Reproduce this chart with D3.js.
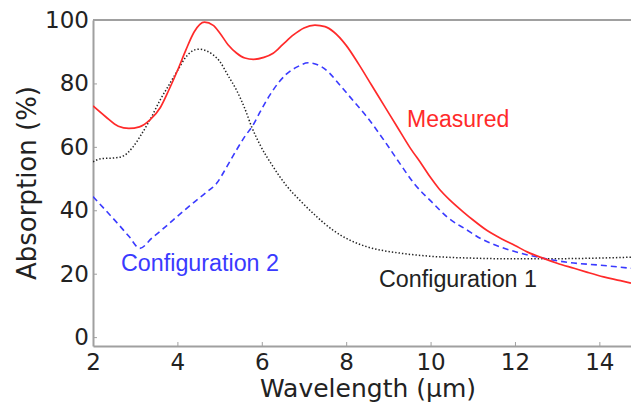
<!DOCTYPE html>
<html>
<head>
<meta charset="utf-8">
<script src="https://cdn.jsdelivr.net/npm/d3@7"></script>
<style>
  html, body { margin: 0; padding: 0; background: #fff; }
  svg { display: block; }
</style>
</head>
<body>
<svg id="chart" width="631" height="406"></svg>
<script>
// Wavelength (µm) / absorption (%) samples for each curve
const measuredX = [2.0, 2.3, 2.6, 2.85, 3.1, 3.35, 3.6, 3.8, 4.0, 4.2, 4.4, 4.64, 4.85, 5.0, 5.2, 5.4, 5.6, 5.8, 6.05, 6.27, 6.5, 6.75, 7.0, 7.26, 7.5, 7.7, 8.0, 8.3, 8.6, 8.9, 9.2, 9.5, 9.8, 10.0, 10.2, 10.46, 10.8, 11.0, 11.34, 11.7, 12.0, 12.3, 12.66, 13.0, 13.4, 13.7, 14.1, 14.5, 14.75];
const measuredY = [72.9, 69.5, 66.5, 65.8, 66.3, 68.5, 72.5, 78.0, 84.0, 90.5, 96.3, 99.3, 98.3, 96.0, 92.2, 89.6, 88.0, 87.6, 88.2, 89.5, 92.3, 95.3, 97.5, 98.4, 97.9, 96.3, 92.0, 86.0, 79.5, 73.0, 66.5, 60.0, 54.3, 50.3, 46.8, 43.2, 39.2, 37.0, 33.6, 30.9, 28.9, 26.8, 24.9, 23.3, 21.7, 20.5, 19.0, 17.8, 17.0];

const config1X = [2.0, 2.2, 2.5, 2.7, 2.95, 3.15, 3.35, 3.6, 3.8, 4.0, 4.2, 4.35, 4.5, 4.7, 4.85, 5.0, 5.2, 5.4, 5.6, 5.76, 5.96, 6.27, 6.6, 6.9, 7.3, 7.69, 8.1, 8.49, 9.27, 10.0, 11.0, 12.0, 12.66, 13.5, 14.75];
const config1Y = [55.3, 56.3, 56.5, 57.0, 60.0, 64.0, 68.5, 75.0, 79.5, 84.0, 88.3, 90.2, 90.8, 90.2, 89.0, 87.0, 82.5, 77.9, 72.0, 66.3, 60.6, 53.7, 47.5, 43.2, 38.0, 33.7, 30.5, 28.5, 26.5, 25.5, 24.9, 24.7, 24.7, 24.8, 25.2];

const config2X = [2.0, 2.3, 2.6, 2.85, 3.11, 3.4, 3.7, 4.06, 4.4, 4.7, 4.93, 5.17, 5.4, 5.6, 5.79, 5.96, 6.19, 6.4, 6.59, 6.85, 7.1, 7.4, 7.6, 7.85, 8.1, 8.5, 8.9, 9.27, 9.6, 10.06, 10.4, 10.86, 11.2, 11.64, 12.1, 12.66, 13.3, 14.01, 14.75];
const config2Y = [44.3, 40.0, 35.6, 31.8, 28.0, 31.3, 34.6, 38.8, 42.6, 45.8, 48.5, 53.7, 59.0, 63.3, 66.8, 71.0, 76.3, 80.3, 83.0, 85.3, 86.5, 85.4, 83.3, 79.5, 75.6, 69.3, 62.0, 54.8, 48.6, 42.2, 37.8, 33.8, 31.0, 28.5, 26.6, 24.9, 23.5, 22.7, 21.7];

const xTicks = [2, 4, 6, 8, 10, 12, 14];
const yTicks = [0, 20, 40, 60, 80, 100];

const svg = d3.select("#chart");
const W = 631, H = 406;
const margin = { left: 93, top: 20, right: 0, bottom: 60 };

svg.append("rect").attr("width", W).attr("height", H).attr("fill", "#fff");

const x = d3.scaleLinear().domain([2, 14.75]).range([margin.left, W - margin.right]);
const y = d3.scaleLinear().domain([-2.8, 100]).range([H - margin.bottom, margin.top]);

svg.append("defs").append("clipPath").attr("id", "plot-clip")
  .append("rect")
  .attr("x", margin.left).attr("y", margin.top - 2)
  .attr("width", W - margin.left).attr("height", H - margin.bottom - margin.top + 2);

// Axes
const axisColor = "#a0a0a0";
const tickFont = "'DejaVu Sans', sans-serif";

const gx = svg.append("g")
  .attr("transform", `translate(0,${H - margin.bottom})`)
  .call(d3.axisBottom(x).tickValues(xTicks).tickSizeInner(-4).tickSizeOuter(0).tickPadding(8).tickFormat(d3.format("d")));
const gy = svg.append("g")
  .attr("transform", `translate(${margin.left},0)`)
  .call(d3.axisLeft(y).tickValues(yTicks).tickSizeInner(-4).tickSizeOuter(0).tickPadding(4).tickFormat(d3.format("d")));

[gx, gy].forEach(g => {
  g.select(".domain").attr("stroke", axisColor).attr("stroke-width", 2);
  g.selectAll(".tick line").attr("stroke", axisColor).attr("stroke-width", 1);
  g.selectAll(".tick text").attr("fill", "#222").style("font-family", tickFont).style("font-size", "23px");
});

// Top spine
svg.append("line")
  .attr("x1", margin.left).attr("x2", W)
  .attr("y1", y(100)).attr("y2", y(100))
  .attr("stroke", axisColor).attr("stroke-width", 2);

// Curves
const line = d3.line().x(d => x(d[0])).y(d => y(d[1])).curve(d3.curveMonotoneX);
const plot = svg.append("g").attr("clip-path", "url(#plot-clip)");

const series = [
  { xs: config1X, ys: config1Y, color: "#222", dash: "1.4,2", width: 1.5 },
  { xs: config2X, ys: config2Y, color: "#3a3aff", dash: "6,4", width: 1.6 },
  { xs: measuredX, ys: measuredY, color: "#ff2a2a", dash: null, width: 1.7 }
];

series.forEach(s => {
  plot.append("path")
    .datum(s.xs.map((v, i) => [v, s.ys[i]]))
    .attr("d", line)
    .attr("fill", "none")
    .attr("stroke", s.color)
    .attr("stroke-width", s.width)
    .attr("stroke-dasharray", s.dash);
});

// Curve labels
const labelFont = "'Liberation Sans', Arial, sans-serif";
svg.append("text").attr("x", 407).attr("y", 127).text("Measured")
  .attr("fill", "#ff2a2a").style("font-family", labelFont).style("font-size", "23px");
svg.append("text").attr("x", 121).attr("y", 271).text("Configuration 2")
  .attr("fill", "#3a3aff").style("font-family", labelFont).style("font-size", "23.3px");
svg.append("text").attr("x", 379).attr("y", 287).text("Configuration 1")
  .attr("fill", "#222").style("font-family", labelFont).style("font-size", "23.3px");

// Axis titles
svg.append("text")
  .attr("x", 368).attr("y", 397)
  .attr("text-anchor", "middle")
  .attr("fill", "#222")
  .style("font-family", tickFont).style("font-size", "25px")
  .text("Wavelength (µm)");
svg.append("text")
  .attr("transform", `translate(36,${(margin.top + H - margin.bottom) / 2}) rotate(-90)`)
  .attr("text-anchor", "middle")
  .attr("fill", "#222")
  .style("font-family", tickFont).style("font-size", "26px")
  .text("Absorption (%)");
</script>
</body>
</html>
